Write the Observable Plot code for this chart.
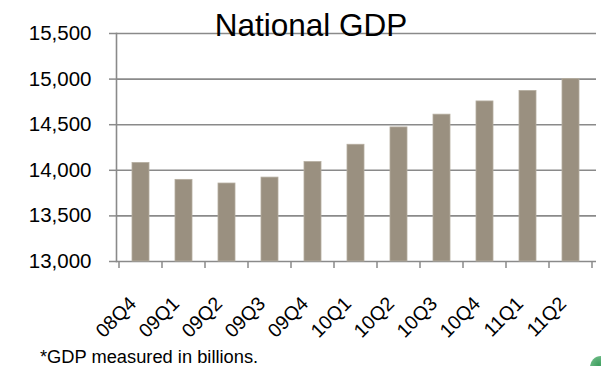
<!DOCTYPE html>
<html><head><meta charset="utf-8">
<script src="https://cdn.jsdelivr.net/npm/d3@7"></script>
<script src="https://cdn.jsdelivr.net/npm/@observablehq/plot@0.6"></script>
<style>
body{margin:0;background:#fff;}
#wrap{position:relative;width:601px;height:366px;font-family:"Liberation Sans",Arial,sans-serif;overflow:hidden;}
#title{position:absolute;left:0;width:622px;top:10px;text-align:center;font-size:31.5px;line-height:31px;color:#000;}
#caption{position:absolute;left:40px;top:348px;font-size:18.3px;line-height:18px;color:#000;}
#blob{position:absolute;left:590px;top:356px;width:22px;height:22px;border-radius:50%;background:radial-gradient(circle at 40% 40%,#3f9f5f,#7cc493 70%,rgba(255,255,255,0));}
</style></head>
<body><div id="wrap"><div id="chart"></div><div id="title">National GDP</div><div id="caption">*GDP measured in billions.</div><div id="blob"></div></div>
<script>
const quarters = ["08Q4","09Q1","09Q2","09Q3","09Q4","10Q1","10Q2","10Q3","10Q4","11Q1","11Q2"];
const gdp = [14080, 13895, 13855, 13920, 14090, 14280, 14470, 14610, 14755, 14870, 15000];
const yTicks = [13000, 13500, 14000, 14500, 15000, 15500];
const data = quarters.map((q, i) => ({q, v: gdp[i]}));
const gray = "#8a8a8a";

const bandTicks = (index, scales, values, dims) => {
  const x = scales.x, step = x.step(), bw = x.bandwidth();
  const g = d3.create("svg:g");
  const y0 = dims.height - dims.marginBottom;
  const start = x(quarters[0]) - (step - bw) / 2;
  for (let k = 0; k <= quarters.length; k++) {
    const xx = start + k * step;
    g.append("line").attr("x1", xx).attr("x2", xx).attr("y1", y0).attr("y2", y0 + 7)
      .attr("stroke", gray).attr("stroke-width", 1.5);
  }
  return g.node();
};

const plot = Plot.plot({
  width: 601, height: 366,
  marginLeft: 116, marginRight: 5, marginTop: 33, marginBottom: 105,
  style: {fontFamily: '"Liberation Sans", Arial, sans-serif', color: "#000", background: "transparent"},
  x: {domain: quarters, paddingInner: 0.6, paddingOuter: 0.3, label: null},
  y: {domain: [13000, 15500], label: null},
  marks: [
    Plot.ruleY(yTicks, {stroke: gray, strokeWidth: 1.6}),
    Plot.barY(data, {x: "q", y1: 13000, y2: "v", fill: "#9a9080", stroke: "#b5ad9f", strokeWidth: 0.8}),
    Plot.frame({anchor: "left", stroke: gray, strokeWidth: 1.6}),
    Plot.axisY({ticks: yTicks, tickFormat: d3.format(","), tickSize: 7, tickPadding: 18, fontSize: 20.5, stroke: gray, strokeWidth: 1.5}),
    Plot.axisX({tickRotate: -45, tickSize: 0, tickPadding: 39, dx: -8, fontSize: 19.5}),
    bandTicks
  ]
});
document.getElementById("chart").appendChild(plot);
</script></body></html>
